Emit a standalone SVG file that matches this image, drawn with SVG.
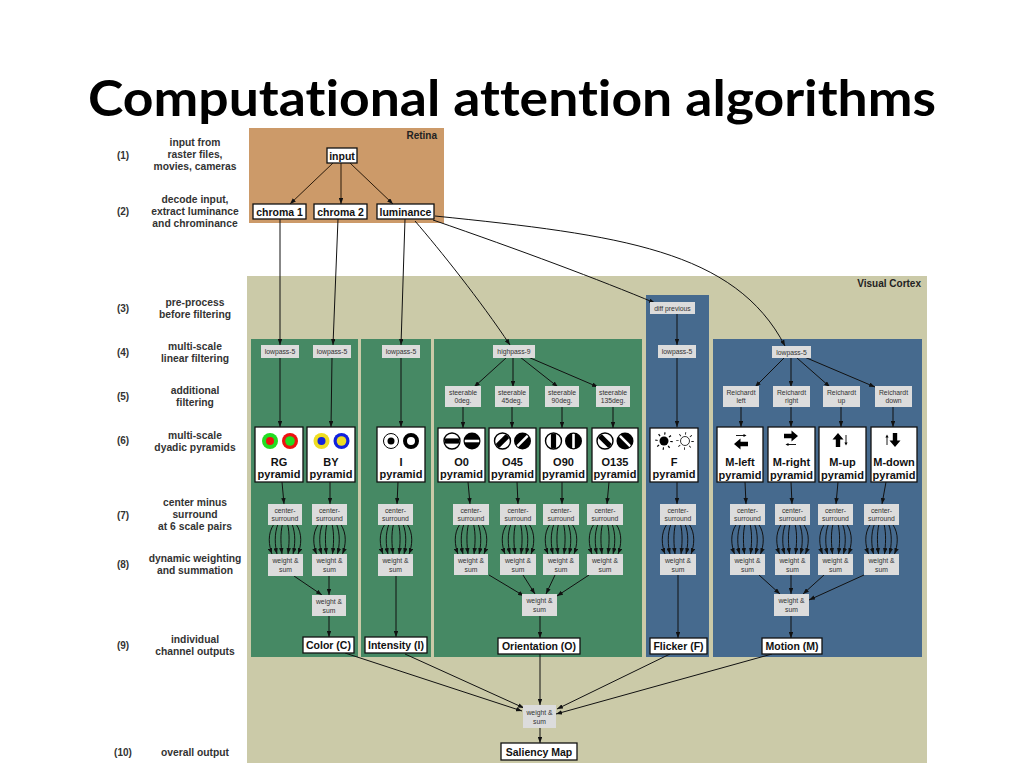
<svg xmlns="http://www.w3.org/2000/svg" xmlns:xlink="http://www.w3.org/1999/xlink" width="1024" height="768" viewBox="0 0 1024 768">
<style>
.lbl{font-family:"Liberation Sans",Arial,sans-serif;font-size:10.3px;font-weight:bold;fill:#333;text-anchor:middle}
.num{font-family:"Liberation Sans",Arial,sans-serif;font-size:10px;font-weight:bold;fill:#333;text-anchor:middle}
.sm{fill:#dcdcdc}
.smt{font-family:"Liberation Sans",Arial,sans-serif;font-size:6.8px;fill:#333;text-anchor:middle}
.wb{fill:#fff;stroke:#111;stroke-width:1.3}
.wbt{font-family:"Liberation Sans",Arial,sans-serif;font-size:10.5px;font-weight:bold;fill:#111;text-anchor:middle}
.pt{font-family:"Liberation Sans",Arial,sans-serif;font-size:11px;font-weight:bold;fill:#111;text-anchor:middle}
.green{fill:#468964}
.blue{fill:#466a8e}
.ln{fill:none;stroke:#111;stroke-width:1;marker-end:url(#ah)}
.lnb{fill:none;stroke:#2a1a0a;stroke-width:1;marker-end:url(#ah)}
.reg{font-family:"Liberation Sans",Arial,sans-serif;font-size:10px;font-weight:bold;fill:#222;text-anchor:end}
.title{font-family:Lato,"Open Sans","Liberation Sans",sans-serif;font-size:50px;font-weight:bold;fill:#000;text-anchor:middle;font-variant-ligatures:none;font-feature-settings:"liga" 0,"dlig" 0}
</style>
<defs>
<marker id="ah" viewBox="0 0 8 6" refX="8" refY="3" markerWidth="6" markerHeight="4.5" orient="auto" markerUnits="userSpaceOnUse"><path d="M0,0 L8,3 L0,6 z" fill="#111"/></marker>
<clipPath id="cc"><circle r="7.3"/></clipPath>
<g id="oa"><circle r="8" fill="#fff" stroke="#000" stroke-width="1.4"/><rect x="-9" y="-2.6" width="18" height="5.2" fill="#000" clip-path="url(#cc)"/></g>
<g id="ob"><circle r="8.5" fill="#000"/><rect x="-9" y="-1.3" width="18" height="2.6" fill="#fff" clip-path="url(#cc)"/></g>
<g id="bundle" class="ln">
<path d="M-11 0 C-18 10,-16 22,-13 30"/>
<path d="M-7 0 C-11 10,-10 22,-8 30"/>
<path d="M-2.5 0 C-5 10,-4 22,-3 30"/>
<path d="M2.5 0 C5 10,4 22,3 30"/>
<path d="M7 0 C11 10,10 22,8 30"/>
<path d="M11 0 C18 10,16 22,13 30"/>
</g>
<polygon id="bigarr" points="-7,-2.2 0.5,-2.2 0.5,-5.5 7,0 0.5,5.5 0.5,2.2 -7,2.2" fill="#000"/>
<g id="smarr"><line x1="-5" y1="0" x2="3" y2="0" stroke="#000" stroke-width="0.9"/><polygon points="2.5,-1.6 5.5,0 2.5,1.6" fill="#000"/></g>
</defs>

<rect width="1024" height="768" fill="#fff"/>
<text class="title" x="512" y="116" textLength="848" lengthAdjust="spacingAndGlyphs">Computational attention algorithms</text>

<g id="legend">
<text class="num" x="123" y="159">(1)</text>
<text class="lbl" x="195" y="146">input from</text>
<text class="lbl" x="195" y="158">raster files,</text>
<text class="lbl" x="195" y="170">movies, cameras</text>
<text class="num" x="123" y="215">(2)</text>
<text class="lbl" x="195" y="203">decode input,</text>
<text class="lbl" x="195" y="215">extract luminance</text>
<text class="lbl" x="195" y="227">and chrominance</text>
<text class="num" x="123" y="312">(3)</text>
<text class="lbl" x="195" y="306">pre-process</text>
<text class="lbl" x="195" y="318">before filtering</text>
<text class="num" x="123" y="356">(4)</text>
<text class="lbl" x="195" y="350">multi-scale</text>
<text class="lbl" x="195" y="362">linear filtering</text>
<text class="num" x="123" y="400">(5)</text>
<text class="lbl" x="195" y="394">additional</text>
<text class="lbl" x="195" y="406">filtering</text>
<text class="num" x="123" y="444">(6)</text>
<text class="lbl" x="195" y="439">multi-scale</text>
<text class="lbl" x="195" y="451">dyadic pyramids</text>
<text class="num" x="123" y="519">(7)</text>
<text class="lbl" x="195" y="506">center minus</text>
<text class="lbl" x="195" y="518">surround</text>
<text class="lbl" x="195" y="530">at 6 scale pairs</text>
<text class="num" x="123" y="568">(8)</text>
<text class="lbl" x="195" y="562">dynamic weighting</text>
<text class="lbl" x="195" y="574">and summation</text>
<text class="num" x="123" y="649">(9)</text>
<text class="lbl" x="195" y="643">individual</text>
<text class="lbl" x="195" y="655">channel outputs</text>
<text class="num" x="123" y="756">(10)</text>
<text class="lbl" x="195" y="756">overall output</text>
</g>

<g id="retina">
<rect x="249" y="128" width="195" height="95" fill="#cc9a69"/>
<text class="reg" x="437" y="139">Retina</text>
</g>
<g id="cortex">
<rect x="247" y="276" width="680" height="487" fill="#cbcaa8"/>
<text class="reg" x="921" y="287">Visual Cortex</text>
</g>
<g id="panels">
<rect class="green" x="251" y="339" width="107" height="318"/>
<rect class="green" x="361" y="339" width="70" height="318"/>
<rect class="green" x="434" y="339" width="208" height="318"/>
<rect class="blue" x="646" y="295" width="63" height="362"/>
<rect class="blue" x="713" y="339" width="209" height="318"/>
</g>

<g id="connectors">
<line class="lnb" x1="333" y1="163" x2="290" y2="204"/>
<line class="lnb" x1="341" y1="163" x2="341" y2="204"/>
<line class="lnb" x1="350" y1="163" x2="393" y2="204"/>
<line class="ln" x1="280" y1="219" x2="280" y2="345"/>
<line class="ln" x1="338" y1="219" x2="333" y2="345"/>
<line class="ln" x1="405" y1="219" x2="401" y2="345"/>
<path class="ln" d="M415 221 C440 250,480 300,510 345"/>
<path class="ln" d="M433 220 C520 250,600 280,655 303"/>
<path class="ln" d="M435 216 C620 235,735 250,785 346"/>
<!-- color -->
<line class="ln" x1="280" y1="358" x2="280" y2="427"/>
<line class="ln" x1="332" y1="358" x2="331" y2="427"/>
<line class="ln" x1="282" y1="482" x2="284" y2="504"/>
<line class="ln" x1="330" y1="482" x2="330" y2="504"/>
<use xlink:href="#bundle" href="#bundle" transform="translate(285,524)"/>
<use xlink:href="#bundle" href="#bundle" transform="translate(329.5,524)"/>
<line class="ln" x1="294" y1="576" x2="322" y2="595"/>
<line class="ln" x1="329" y1="576" x2="329" y2="595"/>
<line class="ln" x1="329" y1="616" x2="329" y2="637"/>
<!-- intensity -->
<line class="ln" x1="401" y1="358" x2="401" y2="427"/>
<line class="ln" x1="398" y1="482" x2="397" y2="504"/>
<use xlink:href="#bundle" href="#bundle" transform="translate(396,524)"/>
<line class="ln" x1="396" y1="576" x2="396" y2="637"/>
<!-- orientation -->
<line class="ln" x1="506" y1="358" x2="474" y2="387"/>
<line class="ln" x1="513" y1="358" x2="513" y2="387"/>
<line class="ln" x1="520" y1="357" x2="558" y2="387"/>
<line class="ln" x1="528" y1="357" x2="598" y2="387"/>
<line class="ln" x1="463" y1="407" x2="463" y2="428"/>
<line class="ln" x1="512" y1="407" x2="512" y2="428"/>
<line class="ln" x1="562" y1="407" x2="562" y2="428"/>
<line class="ln" x1="613" y1="407" x2="613" y2="428"/>
<line class="ln" x1="468" y1="482" x2="470" y2="504"/>
<line class="ln" x1="517" y1="482" x2="518" y2="504"/>
<line class="ln" x1="562" y1="482" x2="562" y2="504"/>
<line class="ln" x1="609" y1="482" x2="607" y2="504"/>
<use xlink:href="#bundle" href="#bundle" transform="translate(471,524)"/>
<use xlink:href="#bundle" href="#bundle" transform="translate(518,524)"/>
<use xlink:href="#bundle" href="#bundle" transform="translate(561,524)"/>
<use xlink:href="#bundle" href="#bundle" transform="translate(605,524)"/>
<line class="ln" x1="489" y1="575" x2="524" y2="596"/>
<line class="ln" x1="523" y1="575" x2="535" y2="594"/>
<line class="ln" x1="555" y1="575" x2="546" y2="594"/>
<line class="ln" x1="589" y1="575" x2="557" y2="596"/>
<line class="ln" x1="540" y1="616" x2="540" y2="638"/>
<!-- flicker -->
<line class="ln" x1="677" y1="314" x2="677" y2="345"/>
<line class="ln" x1="677" y1="358" x2="677" y2="427"/>
<line class="ln" x1="677" y1="482" x2="677" y2="504"/>
<use xlink:href="#bundle" href="#bundle" transform="translate(678,524)"/>
<line class="ln" x1="678" y1="575" x2="678" y2="638"/>
<!-- motion -->
<line class="ln" x1="784" y1="358" x2="755" y2="387"/>
<line class="ln" x1="791" y1="358" x2="791" y2="387"/>
<line class="ln" x1="797" y1="358" x2="830" y2="387"/>
<line class="ln" x1="802" y1="356" x2="875" y2="387"/>
<line class="ln" x1="741" y1="407" x2="741" y2="427"/>
<line class="ln" x1="791" y1="407" x2="791" y2="427"/>
<line class="ln" x1="841" y1="407" x2="841" y2="427"/>
<line class="ln" x1="893" y1="407" x2="893" y2="427"/>
<line class="ln" x1="745" y1="482" x2="746" y2="504"/>
<line class="ln" x1="791" y1="482" x2="792" y2="504"/>
<line class="ln" x1="838" y1="482" x2="836" y2="504"/>
<line class="ln" x1="886" y1="482" x2="882" y2="504"/>
<use xlink:href="#bundle" href="#bundle" transform="translate(747.5,524)"/>
<use xlink:href="#bundle" href="#bundle" transform="translate(792.5,524)"/>
<use xlink:href="#bundle" href="#bundle" transform="translate(835.5,524)"/>
<use xlink:href="#bundle" href="#bundle" transform="translate(881.5,524)"/>
<line class="ln" x1="759" y1="575" x2="780" y2="594"/>
<line class="ln" x1="791" y1="575" x2="791" y2="594"/>
<line class="ln" x1="824" y1="575" x2="803" y2="594"/>
<line class="ln" x1="864" y1="575" x2="809" y2="600"/>
<line class="ln" x1="791" y1="616" x2="791" y2="638"/>
<!-- final -->
<line class="ln" x1="345" y1="653" x2="522" y2="711"/>
<line class="ln" x1="405" y1="654" x2="524" y2="708"/>
<line class="ln" x1="540" y1="654" x2="540" y2="705"/>
<line class="ln" x1="670" y1="654" x2="557" y2="709"/>
<line class="ln" x1="772" y1="654" x2="556" y2="714"/>
<line class="ln" x1="540" y1="728" x2="540" y2="743"/>
</g>

<g id="n-input"><rect class="wb" x="327" y="148" width="30" height="15"/><text class="wbt" x="342" y="159.5">input</text></g>
<g id="n-chroma1"><rect class="wb" x="253" y="204" width="53" height="15"/><text class="wbt" x="279.5" y="215.5">chroma 1</text></g>
<g id="n-chroma2"><rect class="wb" x="314" y="204" width="53" height="15"/><text class="wbt" x="340.5" y="215.5">chroma 2</text></g>
<g id="n-luminance"><rect class="wb" x="377" y="204" width="57" height="15"/><text class="wbt" x="405.5" y="215.5">luminance</text></g>

<g id="n-lp-rg"><rect class="sm" x="261" y="345" width="38" height="13"/><text class="smt" x="280" y="354">lowpass-5</text></g>
<g id="n-lp-by"><rect class="sm" x="313" y="345" width="38" height="13"/><text class="smt" x="332" y="354">lowpass-5</text></g>
<g id="n-lp-i"><rect class="sm" x="382" y="345" width="38" height="13"/><text class="smt" x="401" y="354">lowpass-5</text></g>
<g id="n-hp"><rect class="sm" x="493" y="345" width="42" height="13"/><text class="smt" x="514" y="354">highpass-9</text></g>
<g id="n-diff"><rect class="sm" x="650" y="302" width="45" height="12"/><text class="smt" x="672.5" y="310.5">diff previous</text></g>
<g id="n-lp-f"><rect class="sm" x="658" y="345" width="38" height="13"/><text class="smt" x="677" y="354">lowpass-5</text></g>
<g id="n-lp-m"><rect class="sm" x="772" y="346" width="39" height="12"/><text class="smt" x="791.5" y="354.5">lowpass-5</text></g>

<g id="n-st0"><rect class="sm" x="445" y="386" width="36" height="21"/><text class="smt" x="463" y="394.5">steerable</text><text class="smt" x="463" y="403">0deg.</text></g>
<g id="n-st45"><rect class="sm" x="495" y="386" width="34" height="21"/><text class="smt" x="512" y="394.5">steerable</text><text class="smt" x="512" y="403">45deg.</text></g>
<g id="n-st90"><rect class="sm" x="545" y="386" width="34" height="21"/><text class="smt" x="562" y="394.5">steerable</text><text class="smt" x="562" y="403">90deg.</text></g>
<g id="n-st135"><rect class="sm" x="596" y="386" width="34" height="21"/><text class="smt" x="613" y="394.5">steerable</text><text class="smt" x="613" y="403">135deg.</text></g>

<g id="n-rl"><rect class="sm" x="723" y="386" width="36" height="21"/><text class="smt" x="741" y="394.5">Reichardt</text><text class="smt" x="741" y="403">left</text></g>
<g id="n-rr"><rect class="sm" x="773" y="386" width="37" height="21"/><text class="smt" x="791.5" y="394.5">Reichardt</text><text class="smt" x="791.5" y="403">right</text></g>
<g id="n-ru"><rect class="sm" x="823" y="386" width="37" height="21"/><text class="smt" x="841.5" y="394.5">Reichardt</text><text class="smt" x="841.5" y="403">up</text></g>
<g id="n-rd"><rect class="sm" x="875" y="386" width="37" height="21"/><text class="smt" x="893.5" y="394.5">Reichardt</text><text class="smt" x="893.5" y="403">down</text></g>

<!-- pyramids -->
<g id="n-rg"><rect class="wb" x="255" y="427" width="48" height="55"/>
<circle cx="270" cy="441" r="8" fill="#22dd22"/><circle cx="270" cy="441" r="4" fill="#ee1111"/>
<circle cx="290" cy="441" r="8" fill="#ee1111"/><circle cx="290" cy="441" r="4.8" fill="#22dd22"/>
<text class="pt" x="279" y="465.5">RG</text><text class="pt" x="279" y="478">pyramid</text></g>
<g id="n-by"><rect class="wb" x="307" y="427" width="48" height="55"/>
<circle cx="321.5" cy="441" r="8" fill="#eedd22"/><circle cx="321.5" cy="441" r="4" fill="#1122dd"/>
<circle cx="341.5" cy="441" r="8" fill="#1122dd"/><circle cx="341.5" cy="441" r="4.8" fill="#eedd22"/>
<text class="pt" x="331" y="465.5">BY</text><text class="pt" x="331" y="478">pyramid</text></g>
<g id="n-ip"><rect class="wb" x="377" y="427" width="48" height="55"/>
<circle cx="391" cy="441" r="7.5" fill="#fff" stroke="#000" stroke-width="1"/><circle cx="391" cy="441" r="3.5" fill="#000"/>
<circle cx="411" cy="441" r="6" fill="#fff" stroke="#000" stroke-width="4"/>
<text class="pt" x="401" y="465.5">I</text><text class="pt" x="401" y="478">pyramid</text></g>
<g id="n-o0"><rect class="wb" x="438" y="428" width="47" height="54"/>
<use href="#oa" xlink:href="#oa" transform="translate(452,441)"/><use href="#ob" xlink:href="#ob" transform="translate(472,441)"/>
<text class="pt" x="461.5" y="465.5">O0</text><text class="pt" x="461.5" y="478">pyramid</text></g>
<g id="n-o45"><rect class="wb" x="489" y="428" width="47" height="54"/>
<use href="#oa" xlink:href="#oa" transform="translate(502.5,441) rotate(-45)"/><use href="#ob" xlink:href="#ob" transform="translate(522.5,441) rotate(-45)"/>
<text class="pt" x="512.5" y="465.5">O45</text><text class="pt" x="512.5" y="478">pyramid</text></g>
<g id="n-o90"><rect class="wb" x="540" y="428" width="47" height="54"/>
<use href="#oa" xlink:href="#oa" transform="translate(553.5,441) rotate(90)"/><use href="#ob" xlink:href="#ob" transform="translate(573.5,441) rotate(90)"/>
<text class="pt" x="563.5" y="465.5">O90</text><text class="pt" x="563.5" y="478">pyramid</text></g>
<g id="n-o135"><rect class="wb" x="592" y="428" width="46" height="54"/>
<use href="#oa" xlink:href="#oa" transform="translate(605,441) rotate(45)"/><use href="#ob" xlink:href="#ob" transform="translate(625,441) rotate(45)"/>
<text class="pt" x="615" y="465.5">O135</text><text class="pt" x="615" y="478">pyramid</text></g>
<g id="n-fp"><rect class="wb" x="650" y="428" width="48" height="54"/>
<circle cx="664" cy="441" r="4.5" fill="#000"/><circle cx="664" cy="441" r="7.5" fill="none" stroke="#000" stroke-width="2.5" stroke-dasharray="1.2 4.7"/>
<circle cx="685" cy="441" r="4.5" fill="#fff" stroke="#000" stroke-width="0.8"/><circle cx="685" cy="441" r="7.5" fill="none" stroke="#000" stroke-width="2.5" stroke-dasharray="0.8 5.1"/>
<text class="pt" x="674" y="465.5">F</text><text class="pt" x="674" y="478">pyramid</text></g>
<g id="n-ml"><rect class="wb" x="717" y="427" width="46" height="55"/>
<use href="#smarr" xlink:href="#smarr" transform="translate(741,435.5)"/><use href="#bigarr" xlink:href="#bigarr" transform="translate(741,444) rotate(180)"/>
<text class="pt" x="740" y="466">M-left</text><text class="pt" x="740" y="478.5">pyramid</text></g>
<g id="n-mr"><rect class="wb" x="768" y="427" width="47" height="55"/>
<use href="#bigarr" xlink:href="#bigarr" transform="translate(791,436)"/><use href="#smarr" xlink:href="#smarr" transform="translate(791,444.5) rotate(180)"/>
<text class="pt" x="791.5" y="466">M-right</text><text class="pt" x="791.5" y="478.5">pyramid</text></g>
<g id="n-mu"><rect class="wb" x="819" y="427" width="47" height="55"/>
<use href="#bigarr" xlink:href="#bigarr" transform="translate(838,440) rotate(-90)"/><use href="#smarr" xlink:href="#smarr" transform="translate(846,440) rotate(90)"/>
<text class="pt" x="842.5" y="466">M-up</text><text class="pt" x="842.5" y="478.5">pyramid</text></g>
<g id="n-md"><rect class="wb" x="871" y="427" width="46" height="55"/>
<use href="#smarr" xlink:href="#smarr" transform="translate(887,440) rotate(-90)"/><use href="#bigarr" xlink:href="#bigarr" transform="translate(895,440) rotate(90)"/>
<text class="pt" x="894" y="466">M-down</text><text class="pt" x="894" y="478.5">pyramid</text></g>

<!-- center-surround -->
<g id="n-cs-rg"><rect class="sm" x="268" y="504" width="34" height="21"/><text class="smt" x="285" y="512.5">center-</text><text class="smt" x="285" y="521">surround</text></g>
<g id="n-cs-by"><rect class="sm" x="312" y="504" width="35" height="21"/><text class="smt" x="329.5" y="512.5">center-</text><text class="smt" x="329.5" y="521">surround</text></g>
<g id="n-cs-i"><rect class="sm" x="378" y="504" width="35" height="21"/><text class="smt" x="395.5" y="512.5">center-</text><text class="smt" x="395.5" y="521">surround</text></g>
<g id="n-cs-o0"><rect class="sm" x="453" y="504" width="36" height="21"/><text class="smt" x="471" y="512.5">center-</text><text class="smt" x="471" y="521">surround</text></g>
<g id="n-cs-o45"><rect class="sm" x="500" y="504" width="36" height="21"/><text class="smt" x="518" y="512.5">center-</text><text class="smt" x="518" y="521">surround</text></g>
<g id="n-cs-o90"><rect class="sm" x="543" y="504" width="36" height="21"/><text class="smt" x="561" y="512.5">center-</text><text class="smt" x="561" y="521">surround</text></g>
<g id="n-cs-o135"><rect class="sm" x="587" y="504" width="36" height="21"/><text class="smt" x="605" y="512.5">center-</text><text class="smt" x="605" y="521">surround</text></g>
<g id="n-cs-f"><rect class="sm" x="660" y="504" width="36" height="21"/><text class="smt" x="678" y="512.5">center-</text><text class="smt" x="678" y="521">surround</text></g>
<g id="n-cs-ml"><rect class="sm" x="730" y="504" width="35" height="21"/><text class="smt" x="747.5" y="512.5">center-</text><text class="smt" x="747.5" y="521">surround</text></g>
<g id="n-cs-mr"><rect class="sm" x="775" y="504" width="35" height="21"/><text class="smt" x="792.5" y="512.5">center-</text><text class="smt" x="792.5" y="521">surround</text></g>
<g id="n-cs-mu"><rect class="sm" x="818" y="504" width="35" height="21"/><text class="smt" x="835.5" y="512.5">center-</text><text class="smt" x="835.5" y="521">surround</text></g>
<g id="n-cs-md"><rect class="sm" x="864" y="504" width="35" height="21"/><text class="smt" x="881.5" y="512.5">center-</text><text class="smt" x="881.5" y="521">surround</text></g>

<!-- weight & sum -->
<g id="n-ws-rg"><rect class="sm" x="268" y="554" width="35" height="22"/><text class="smt" x="285.5" y="563">weight &amp;</text><text class="smt" x="285.5" y="571.5">sum</text></g>
<g id="n-ws-by"><rect class="sm" x="312" y="554" width="35" height="22"/><text class="smt" x="329.5" y="563">weight &amp;</text><text class="smt" x="329.5" y="571.5">sum</text></g>
<g id="n-ws-i"><rect class="sm" x="378" y="554" width="35" height="22"/><text class="smt" x="395.5" y="563">weight &amp;</text><text class="smt" x="395.5" y="571.5">sum</text></g>
<g id="n-ws-o0"><rect class="sm" x="454" y="554" width="34" height="21"/><text class="smt" x="471" y="563">weight &amp;</text><text class="smt" x="471" y="571.5">sum</text></g>
<g id="n-ws-o45"><rect class="sm" x="500" y="554" width="36" height="21"/><text class="smt" x="518" y="563">weight &amp;</text><text class="smt" x="518" y="571.5">sum</text></g>
<g id="n-ws-o90"><rect class="sm" x="543" y="554" width="36" height="21"/><text class="smt" x="561" y="563">weight &amp;</text><text class="smt" x="561" y="571.5">sum</text></g>
<g id="n-ws-o135"><rect class="sm" x="587" y="554" width="36" height="21"/><text class="smt" x="605" y="563">weight &amp;</text><text class="smt" x="605" y="571.5">sum</text></g>
<g id="n-ws-f"><rect class="sm" x="660" y="554" width="36" height="21"/><text class="smt" x="678" y="563">weight &amp;</text><text class="smt" x="678" y="571.5">sum</text></g>
<g id="n-ws-ml"><rect class="sm" x="730" y="554" width="35" height="21"/><text class="smt" x="747.5" y="563">weight &amp;</text><text class="smt" x="747.5" y="571.5">sum</text></g>
<g id="n-ws-mr"><rect class="sm" x="775" y="554" width="35" height="21"/><text class="smt" x="792.5" y="563">weight &amp;</text><text class="smt" x="792.5" y="571.5">sum</text></g>
<g id="n-ws-mu"><rect class="sm" x="818" y="554" width="35" height="21"/><text class="smt" x="835.5" y="563">weight &amp;</text><text class="smt" x="835.5" y="571.5">sum</text></g>
<g id="n-ws-md"><rect class="sm" x="864" y="554" width="35" height="21"/><text class="smt" x="881.5" y="563">weight &amp;</text><text class="smt" x="881.5" y="571.5">sum</text></g>
<g id="n-ws-c"><rect class="sm" x="312" y="595" width="34" height="21"/><text class="smt" x="329" y="604">weight &amp;</text><text class="smt" x="329" y="612.5">sum</text></g>
<g id="n-ws-o"><rect class="sm" x="522" y="594" width="35" height="22"/><text class="smt" x="539.5" y="603">weight &amp;</text><text class="smt" x="539.5" y="611.5">sum</text></g>
<g id="n-ws-m"><rect class="sm" x="774" y="594" width="35" height="22"/><text class="smt" x="791.5" y="603">weight &amp;</text><text class="smt" x="791.5" y="611.5">sum</text></g>
<g id="n-ws-all"><rect class="sm" x="523" y="705" width="33" height="23"/><text class="smt" x="539.5" y="715">weight &amp;</text><text class="smt" x="539.5" y="723.5">sum</text></g>

<!-- outputs -->
<g id="n-color"><rect class="wb" x="303" y="637" width="51" height="16"/><text class="wbt" x="328.5" y="649">Color (C)</text></g>
<g id="n-intensity"><rect class="wb" x="365" y="637" width="62" height="16"/><text class="wbt" x="396" y="649">Intensity (I)</text></g>
<g id="n-orientation"><rect class="wb" x="498" y="638" width="82" height="16"/><text class="wbt" x="539" y="650">Orientation (O)</text></g>
<g id="n-flicker"><rect class="wb" x="650" y="638" width="57" height="16"/><text class="wbt" x="678.5" y="650">Flicker (F)</text></g>
<g id="n-motion"><rect class="wb" x="762" y="638" width="60" height="16"/><text class="wbt" x="792" y="650">Motion (M)</text></g>
<g id="n-saliency"><rect class="wb" x="501" y="743" width="76" height="17"/><text class="wbt" x="539" y="755.5">Saliency Map</text></g>
</svg>
